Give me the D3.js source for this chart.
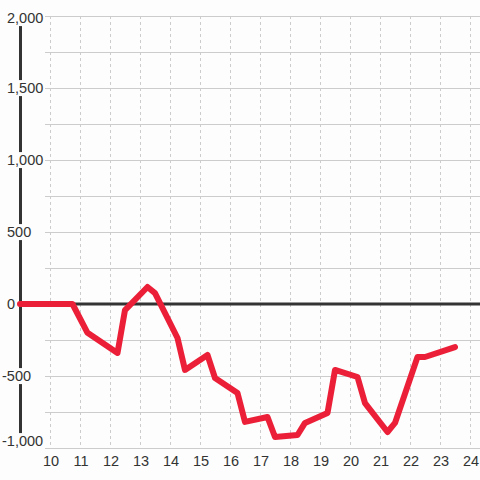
<!DOCTYPE html>
<html>
<head>
<meta charset="utf-8">
<script src="https://cdn.jsdelivr.net/npm/d3@7"></script>
<style>
  body { margin: 0; background: #fcfdfc; }
  text { font-family: "Liberation Sans", Arial, sans-serif; fill: #333; }
</style>
</head>
<body>
<svg id="chart"></svg>
<script>
// data
let hours = [9, 10.75, 11.25, 12.25, 12.5, 13.25, 13.5, 14.25, 14.5, 15.25, 15.5, 16.25, 16.5,
             17.25, 17.5, 18.25, 18.5, 19.25, 19.5, 20.25, 20.5, 21.25, 21.5, 22.25, 22.5, 23.5];
let values = [0, 0, -200, -340, -42, 118, 76, -236, -458, -354, -514, -618, -819,
              -785, -924, -910, -826, -757, -458, -507, -688, -889, -826, -368, -368, -299];
let xTicks = [10, 11, 12, 13, 14, 15, 16, 17, 18, 19, 20, 21, 22, 23, 24];
let yGrid = [-1000, -750, -500, -250, 0, 250, 500, 750, 1000, 1250, 1500, 1750, 2000];
let yLabels = [-1000, -500, 0, 500, 1000, 1500, 2000];

const width = 480;
const height = 480;

const svg = d3.select("#chart")
  .attr("width", width)
  .attr("height", height);

const x = d3.scaleLinear()
  .domain([10, 24])
  .range([50, 470]);

const y = d3.scaleLinear()
  .domain([-1000, 2000])
  .range([448, 16]);

const fmt = d3.formatLocale({decimal: ".", thousands: ",", grouping: [3], currency: ["", ""], minus: "-"}).format(",");

// horizontal grid
svg.append("g").selectAll("line")
  .data(yGrid)
  .join("line")
  .attr("x1", 45).attr("x2", width)
  .attr("y1", d => y(d) + 0.5).attr("y2", d => y(d) + 0.5)
  .attr("stroke", "#cccccc");

// vertical dashed grid
svg.append("g").selectAll("line")
  .data(xTicks)
  .join("line")
  .attr("x1", d => x(d) + 0.5).attr("x2", d => x(d) + 0.5)
  .attr("y1", y(2000)).attr("y2", y(-1000))
  .attr("stroke", "#cccccc")
  .attr("stroke-dasharray", "3,3");

// y axis bar
svg.append("line")
  .attr("x1", 20.5).attr("x2", 20.5)
  .attr("y1", y(2000)).attr("y2", y(-1000))
  .attr("stroke", "#333")
  .attr("stroke-width", 3);

// zero line
svg.append("line")
  .attr("x1", 20).attr("x2", width)
  .attr("y1", y(0)).attr("y2", y(0))
  .attr("stroke", "#333")
  .attr("stroke-width", 3);

// the series
const line = d3.line()
  .x((d, i) => x(hours[i]))
  .y(d => y(d));

svg.append("path")
  .datum(values)
  .attr("fill", "none")
  .attr("stroke", "#ec1f38")
  .attr("stroke-width", 6)
  .attr("stroke-linejoin", "round")
  .attr("stroke-linecap", "round")
  .attr("d", line);

// y labels with background
const yLab = svg.append("g").selectAll("g")
  .data(yLabels)
  .join("g");

yLab.append("text")
  .attr("x", d => d < 0 ? 2 : 7)
  .attr("y", d => Math.min(Math.max(y(d), 18), 441))
  .attr("dy", "0.35em")
  .attr("font-size", "14.5px")
  .text(d => fmt(d));

yLab.each(function(){
  const g = d3.select(this);
  const b = g.select("text").node().getBBox();
  g.insert("rect", "text")
    .attr("x", b.x - 1).attr("y", b.y)
    .attr("width", b.width + 2).attr("height", b.height)
    .attr("fill", "#fcfdfc");
});

// x labels
svg.append("g").selectAll("text")
  .data(xTicks)
  .join("text")
  .attr("x", d => x(d) + 1)
  .attr("y", 466)
  .attr("text-anchor", "middle")
  .attr("font-size", "14.5px")
  .text(d => d);
</script>
</body>
</html>
